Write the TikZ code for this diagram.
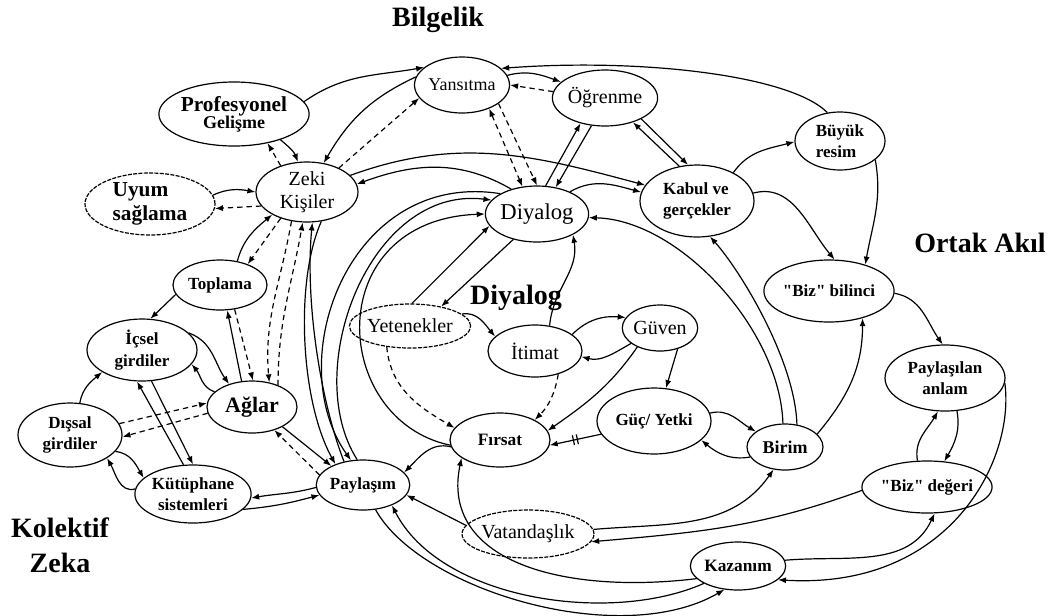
\documentclass[tikz,border=0pt]{standalone}
\usepackage{fontspec}
\setmainfont{Liberation Serif}[Ligatures=TeXOff]
\usetikzlibrary{shapes.geometric,arrows.meta,decorations.markings}
\begin{document}
\begin{tikzpicture}[x=0.75pt,y=-0.75pt,
  nd/.style={ellipse, draw, line width=0.9pt, inner sep=0pt, align=center},
  dnd/.style={nd, dash pattern=on 3pt off 1pt},
  sz/.style 2 args={minimum width=#1*0.75pt, minimum height=#2*0.75pt},
  fb/.style={font=\fontsize{12.75pt}{16pt}\selectfont\bfseries},
  fn/.style={font=\fontsize{15pt}{17pt}\selectfont},
  ttl/.style={font=\fontsize{21pt}{26pt}\selectfont\bfseries, inner sep=0pt, align=center},
  ln/.style={draw, line width=0.9pt, -{Latex[length=6pt,width=4.5pt]}},
  dsh/.style={ln, dash pattern=on 4pt off 3pt},
  dbl/.style={ln, {Latex[length=6pt,width=4.5pt]}-{Latex[length=6pt,width=4.5pt]}},
  ticks/.style={postaction={decorate}, decoration={markings,
     mark=at position 0.5 with {\draw[solid,-,line width=0.9pt] (-2,-5) -- (-2,5) (2,-5) -- (2,5);}}}
]
\useasboundingbox (0,0) rectangle (1053,615);

% section titles
\node[ttl] (tBil) at (438,20) {Bilgelik};
\node[ttl] (tOrt) at (980,243) {Ortak Akıl};
\node[ttl] (tDiy) at (516,298) {Diyalog};
\node[ttl] (tKol) at (60,545) {Kolektif\\Zeka};

% concepts
\node[nd,sz={90}{56},font=\fontsize{13.5pt}{15pt}\selectfont] (ys) at (462,85) {Yansıtma};
\node[nd,sz={86}{56},fn] (og) at (605,98) {Öğrenme};
\node[nd,sz={116}{64}] (pg) at (234,114) {{\fontsize{16pt}{18pt}\selectfont\bfseries Profesyonel}\\[-1pt]{\fontsize{13.5pt}{16pt}\selectfont\bfseries Gelişme}};
\node[nd,sz={102}{60},fn] (zk) at (307,192) {Zeki\\Kişiler};
\node[dnd,sz={130}{62},font=\fontsize{16pt}{18pt}\selectfont\bfseries,align=left] (uy) at (150,204) {Uyum\\sağlama};
\node[nd,sz={90}{56},font=\fontsize{17pt}{20pt}\selectfont] (dy) at (537,214) {Diyalog};
\node[nd,sz={114}{72},fb,align=left] (kb) at (697,201) {Kabul ve\\gerçekler};
\node[nd,sz={90}{58},fb,align=left] (br) at (840,141) {Büyük\\resim};
\node[nd,sz={108}{62},fb] (bb) at (829,291) {"Biz" bilinci};
\node[nd,sz={94}{50},fb] (tp) at (220,285) {Toplama};
\node[nd,sz={110}{62},fb] (ic) at (142,350) {İçsel\\girdiler};
\node[nd,sz={90}{52},font=\fontsize{16.5pt}{18pt}\selectfont\bfseries] (ag) at (252,407) {Ağlar};
\node[nd,sz={104}{64},fb] (ds) at (70,435) {Dışsal\\girdiler};
\node[nd,sz={96}{58},fb] (kt) at (193,494) {Kütüphane\\sistemleri};
\node[nd,sz={80}{50},fb] (pl) at (363,485) {Paylaşım};
\node[dnd,sz={94}{44},fn] (yt) at (410,326) {Yetenekler};
\node[nd,sz={94}{52},fn] (it) at (535,351) {İtimat};
\node[nd,sz={70}{46},fn] (gv) at (660,328) {Güven};
\node[nd,sz={114}{66},fb] (gy) at (654,421) {Güç/ Yetki};
\node[nd,sz={76}{46},font=\fontsize{13.5pt}{15pt}\selectfont\bfseries] (bm) at (785,447) {Birim};
\node[nd,sz={100}{54},font=\fontsize{13pt}{15pt}\selectfont\bfseries] (fr) at (500,440) {Fırsat};
\node[dnd,sz={102}{48},fn] (vt) at (528,534) {Vatandaşlık};
\node[nd,sz={72}{48},font=\fontsize{13pt}{15pt}\selectfont\bfseries] (kz) at (738,566) {Kazanım};
\node[nd,sz={120}{66},fb] (pa) at (945,378) {Paylaşılan\\anlam};
\node[nd,sz={114}{52},fb] (bd) at (927,487) {"Biz" değeri};

% Bilgelik links
\path[ln] (pg.10) to[out=35,in=190] (ys.155);
\path[ln] (ys.170) to[out=205,in=60] (zk.60);
\path[dsh] (zk.37) -- (ys.197);
\path[dsh] (zk.135) -- (pg.-41);
\path[ln] (pg.-29) to[out=-40,in=110] (zk.107);
\path[ln] (uy.8) to[out=25,in=170] (zk.180);
\path[dsh] (zk.197) -- (uy.-4);
\path[ln] (zk.21) to[out=20,in=165] (kb.163);
\path[ln] (dy.136) to[out=150,in=20] (zk.9);
\path[dsh] (ys.-27) -- (dy.90);
\path[dsh,dbl] (ys.-41) -- (dy.118);
\path[ln] (ys.12) to[out=15,in=160] (og.160);
\path[dsh] (og.173) -- (ys.0);
\path[ln] (br.114) .. controls (790,75) and (640,58) .. (ys.23);
\path[ln] (dy.73) -- (og.-134);
\path[ln] (og.-116) -- (dy.55);
\path[ln] (og.-30) -- (kb.104);
\path[ln] (kb.117) -- (og.-41);
\path[ln] (dy.34) to[out=30,in=165] (kb.171);

% Ortak Akil links
\path[ln] (kb.38) to[out=55,in=195] (br.181);
\path[ln] (kb.8) to[out=15,in=130] (bb.80);
\path[ln] (br.-28) to[out=-80,in=80] (bb.36);
\path[ln] (bb.-2) to[out=-10,in=125] (pa.94);
\path[ln] (bm.22) to[out=50,in=-90] (bb.-39);
\path[ln] (bd.110) to[out=100,in=-120] (pa.-102);
\path[ln] (pa.-70) to[out=-80,in=60] (bd.56);
\path[ln] (pa.-5) .. controls (1015,460) and (950,590) .. (kz.-19);
\path[ln] (kz.7) to[out=5,in=-115] (bd.-74);
\path[ln] (bd.183) to[out=200,in=5] (vt.-7);
\path[ln] (vt.4) to[out=5,in=-125] (bm.-117);

% Diyalog links
\path[ln] (bm.196) to[out=190,in=-40] (gy.-22);
\path[ln] (gy.8) to[out=15,in=150] (bm.152);
\path[ln] (gv.-50) -- (gy.70);
\path[ln] (it.24) to[out=45,in=175] (gv.163);
\path[ln] (gv.208) to[out=210,in=-15] (it.-7);
\path[ln] (gv.220) to[out=235,in=35] (fr.11);
\path[ln,ticks] (gy.194) -- (fr.-6);
\path[dsh] (it.-45) to[out=-100,in=45] (fr.30);
\path[dsh] (yt.222) to[out=-85,in=150] (fr.165);
\path[ln] (yt.13) to[out=10,in=130] (it.160);
\path[ln] (it.60) to[out=85,in=-80] (dy.-30);
\path[ln] (yt.85) -- (dy.194);
\path[ln] (dy.227) -- (yt.32);
\path[ln] (bm.95) .. controls (780,330) and (680,220) .. (dy.-4);
\path[ln] (bm.62) .. controls (795,360) and (740,270) .. (kb.-70);

% Kolektif Zeka links
\path[ln] (tp.192) -- (ic.75);
\path[ln] (ag.112) -- (tp.-74);
\path[dsh] (tp.-59) -- (ag.88);
\path[ln] (tp.54) to[out=75,in=220] (zk.213);
\path[dsh] (zk.225) -- (tp.37);
\path[dsh] (zk.242) to[out=-100,in=95] (ag.55);
\path[dsh] (ag.40) to[out=90,in=-100] (zk.-98);
\path[ln] (ic.20) to[out=-20,in=125] (ag.135);
\path[ln] (ag.158) to[out=160,in=-50] (ic.-16);
\path[ln] (ds.73) to[out=80,in=220] (ic.209);
\path[ln] (kt.108) -- (ic.-99);
\path[ln] (ic.-73) -- (kt.90);
\path[dsh] (ds.13) -- (ag.175);
\path[dsh] (ag.188) -- (ds.-2);
\path[ln] (ds.-20) to[out=-5,in=120] (kt.162);
\path[ln] (kt.175) to[out=195,in=-60] (ds.-32);
\path[ln] (ag.-33) -- (pl.149);
\path[dsh] (pl.167) -- (ag.-46);
\path[ln] (pl.183) to[out=195,in=10] (kt.-4);
\path[ln] (kt.-17) to[out=5,in=195] (pl.193);

% links around Paylasim
\path[ln] (fr.188) to[out=165,in=45] (pl.17);
\path[ln] (vt.172) -- (pl.-13);
\path[ln] (kz.197) .. controls (560,595) and (440,560) .. (fr.205);
\path[ln] (kz.207) .. controls (610,625) and (440,600) .. (pl.-35);
\path[ln] (pl.-63) .. controls (420,590) and (620,650) .. (kz.-120);
\path[ln] (pl.129) .. controls (320,400) and (305,300) .. (zk.-80);
\path[ln] (zk.-64) .. controls (295,280) and (300,400) .. (pl.143);
\path[ln] (dy.151) .. controls (350,170) and (280,360) .. (pl.116);
\path[ln] (pl.103) .. controls (300,370) and (370,185) .. (dy.163);
\path[ln] (fr.186) .. controls (330,420) and (320,220) .. (dy.180);
\end{tikzpicture}
\end{document}
